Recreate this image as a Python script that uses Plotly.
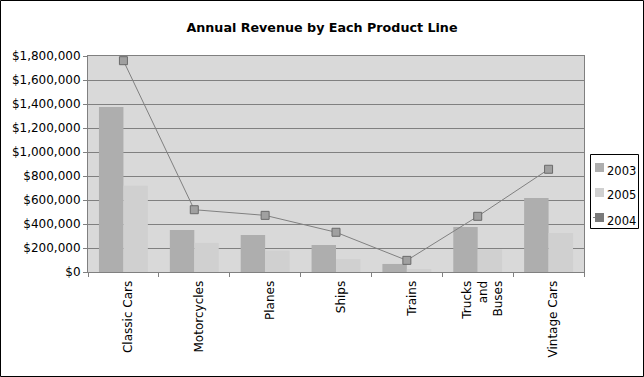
import plotly.graph_objects as go

categories = ["Classic Cars", "Motorcycles", "Planes", "Ships", "Trains", "Trucks and Buses", "Vintage Cars"]
tick_labels = ["Classic Cars", "Motorcycles", "Planes", "Ships", "Trains", "Trucks<br>and<br>Buses", "Vintage Cars"]
rev_2003 = [1375000, 350000, 308000, 225000, 67000, 375000, 617000]
rev_2005 = [719000, 242000, 178000, 108000, 25000, 189000, 325000]
rev_2004 = [1761000, 519000, 472000, 331000, 97000, 464000, 856000]
y_ticks = [0, 200000, 400000, 600000, 800000, 1000000, 1200000, 1400000, 1600000, 1800000]
legend_names = ["2003", "2005", "2004"]
legend_colors = ["#AEAEAE", "#D0D0D0", "#7A7A7A"]

FONT = "DejaVu Sans"
C2003, C2005 = "#AEAEAE", "#D0D0D0"

fig = go.Figure()
fig.add_trace(go.Bar(x=categories, y=rev_2003, name="2003", marker=dict(color=C2003, line=dict(width=0))))
fig.add_trace(go.Bar(x=categories, y=rev_2005, name="2005", marker=dict(color=C2005, line=dict(width=0))))
fig.add_trace(go.Scatter(x=categories, y=rev_2004, name="2004", mode="lines+markers",
                         line=dict(color="#808080", width=1),
                         marker=dict(symbol="square", size=8, color="#A0A0A0",
                                     line=dict(color="#6A6A6A", width=1))))

L, R, T, B = 88, 60, 56, 105
W, H = 644, 377
pw, ph = W - L - R, H - T - B


def px(x):
    return (x - L) / pw


def py(y):
    return (H - B - y) / ph


shapes = [
    # outer chart border
    dict(type="rect", xref="paper", yref="paper", x0=px(0.5), x1=px(W - 0.5),
         y0=py(H - 0.5), y1=py(0.5), line=dict(color="black", width=1)),
    # legend box
    dict(type="rect", xref="paper", yref="paper", x0=px(590.5), x1=px(638.5),
         y0=py(228.5), y1=py(154.5), line=dict(color="black", width=1), fillcolor="white"),
]
annotations = []
for i, (name, col) in enumerate(zip(legend_names, legend_colors)):
    cy = 167.5 + 25 * i
    shapes.append(dict(type="rect", xref="paper", yref="paper", x0=px(595), x1=px(604),
                       y0=py(cy + 4.5), y1=py(cy - 4.5), line=dict(width=0), fillcolor=col))
    annotations.append(dict(text=name, xref="paper", yref="paper", x=px(605), y=py(cy + 3),
                            xanchor="left", yanchor="middle", showarrow=False,
                            font=dict(family=FONT, size=11.5, color="black")))
# little line stub on the 2004 legend symbol
shapes.append(dict(type="line", xref="paper", yref="paper", x0=px(593), x1=px(595),
                   y0=py(217.5), y1=py(217.5), line=dict(color="#808080", width=1)))

fig.update_layout(
    width=W, height=H,
    margin=dict(l=L, r=R, t=T, b=B, autoexpand=False),
    paper_bgcolor="white",
    plot_bgcolor="#D9D9D9",
    font=dict(family=FONT, size=12, color="black"),
    barmode="group",
    bargap=0.31,
    bargroupgap=0,
    showlegend=False,
    title=dict(text="<b>Annual Revenue by Each Product Line</b>", x=0.5, xanchor="center",
               y=1 - 28 / H, yanchor="middle", font=dict(family=FONT, size=12.7)),
    xaxis=dict(type="category", tickmode="array", tickvals=categories, ticktext=tick_labels,
               tickangle=-90, tickson="boundaries", ticks="outside", ticklen=4,
               ticklabelshift=5, ticklabelstandoff=3,
               tickcolor="#808080", showline=True, linecolor="#808080", mirror=True,
               showgrid=False, fixedrange=True, automargin=False),
    yaxis=dict(range=[0, 1800000], tickvals=y_ticks, tickformat="$,.0f",
               ticks="outside", ticklen=4, tickcolor="#808080",
               showline=True, linecolor="#808080", mirror=True, automargin=False,
               showgrid=True, gridcolor="#808080", gridwidth=1, zeroline=False,
               fixedrange=True),
    shapes=shapes,
    annotations=annotations,
)

fig.write_html("out.html", config={"displayModeBar": False, "staticPlot": True},
               post_script="document.body.style.margin='0';document.body.style.overflow='hidden';")
